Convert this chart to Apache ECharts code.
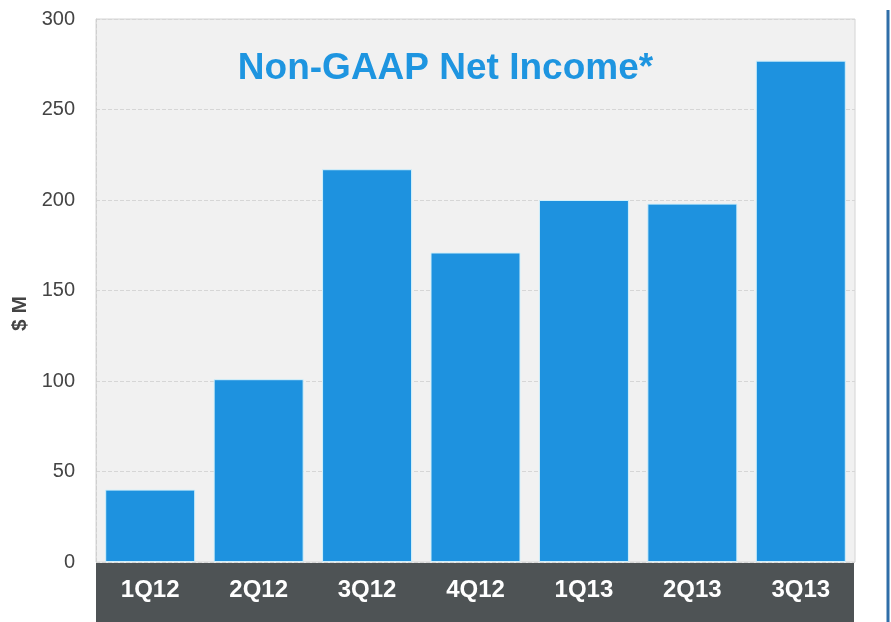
<!DOCTYPE html>
<html>
<head>
<meta charset="utf-8">
<title>Non-GAAP Net Income</title>
<script src="https://cdn.jsdelivr.net/npm/echarts@6/dist/echarts.min.js"></script>
<style>
  html, body { margin: 0; padding: 0; background: #ffffff; }
  #chart { width: 891px; height: 622px; }
</style>
</head>
<body>
<div id="chart"></div>
<script>
// Quarterly non-GAAP net income, $ millions
const quarters = ['1Q12', '2Q12', '3Q12', '4Q12', '1Q13', '2Q13', '3Q13'];
const netIncome = [40, 101, 217, 171, 200, 198, 277];
const yTicks = [0, 50, 100, 150, 200, 250, 300];

const chart = echarts.init(document.getElementById('chart'));

const gridLeft = 96, gridRight = 36, gridTop = 19, gridBottom = 60;

chart.setOption({
  backgroundColor: '#ffffff',
  animation: false,
  title: {
    text: 'Non-GAAP Net Income*',
    left: 'center',
    top: 45,
    textStyle: {
      fontFamily: 'Liberation Sans, Arial, sans-serif',
      fontSize: 37,
      fontWeight: 'bold',
      color: '#1e95e0'
    }
  },
  grid: {
    left: gridLeft,
    right: gridRight,
    top: gridTop,
    bottom: gridBottom,
    show: true,
    backgroundColor: '#f1f1f1',
    borderColor: '#d4d4d4',
    borderWidth: 1
  },
  graphic: [
    {
      // dark band under the category axis
      type: 'rect',
      left: gridLeft,
      top: 622 - gridBottom + 1,
      shape: { width: 891 - gridLeft - gridRight - 1, height: gridBottom },
      style: { fill: '#4e5355' },
      z: 0
    },
    {
      // slide frame edge on the right
      type: 'line',
      shape: { x1: 888, y1: 10, x2: 888, y2: 622 },
      style: { stroke: '#2f6ea8', lineWidth: 3 },
      z: 0
    }
  ],
  xAxis: {
    type: 'category',
    data: quarters,
    z: 10,
    axisLine: { show: false },
    axisTick: { show: false },
    axisLabel: {
      margin: 16,
      color: '#ffffff',
      fontFamily: 'Liberation Sans, Arial, sans-serif',
      fontSize: 24,
      fontWeight: 'bold'
    }
  },
  yAxis: {
    type: 'value',
    min: yTicks[0],
    max: yTicks[yTicks.length - 1],
    interval: 50,
    name: '$ M',
    nameLocation: 'middle',
    nameGap: 64,
    nameRotate: 90,
    nameTextStyle: {
      fontFamily: 'Liberation Sans, Arial, sans-serif',
      fontSize: 21,
      fontWeight: 'bold',
      color: '#444444',
      padding: [0, 46, 0, 0]
    },
    axisLine: { show: true, lineStyle: { color: '#cfcfcf', type: 'dashed' } },
    axisTick: { show: false },
    axisLabel: {
      margin: 21,
      color: '#444444',
      fontFamily: 'Liberation Sans, Arial, sans-serif',
      fontSize: 20
    },
    splitLine: { show: true, lineStyle: { color: '#d6d6d6', type: 'dashed', width: 1 } }
  },
  series: [{
    type: 'bar',
    data: netIncome,
    barCategoryGap: '17%',
    itemStyle: {
      color: '#1e92df',
      borderColor: '#d2f0fb',
      borderWidth: 1
    }
  }]
});
</script>
</body>
</html>
